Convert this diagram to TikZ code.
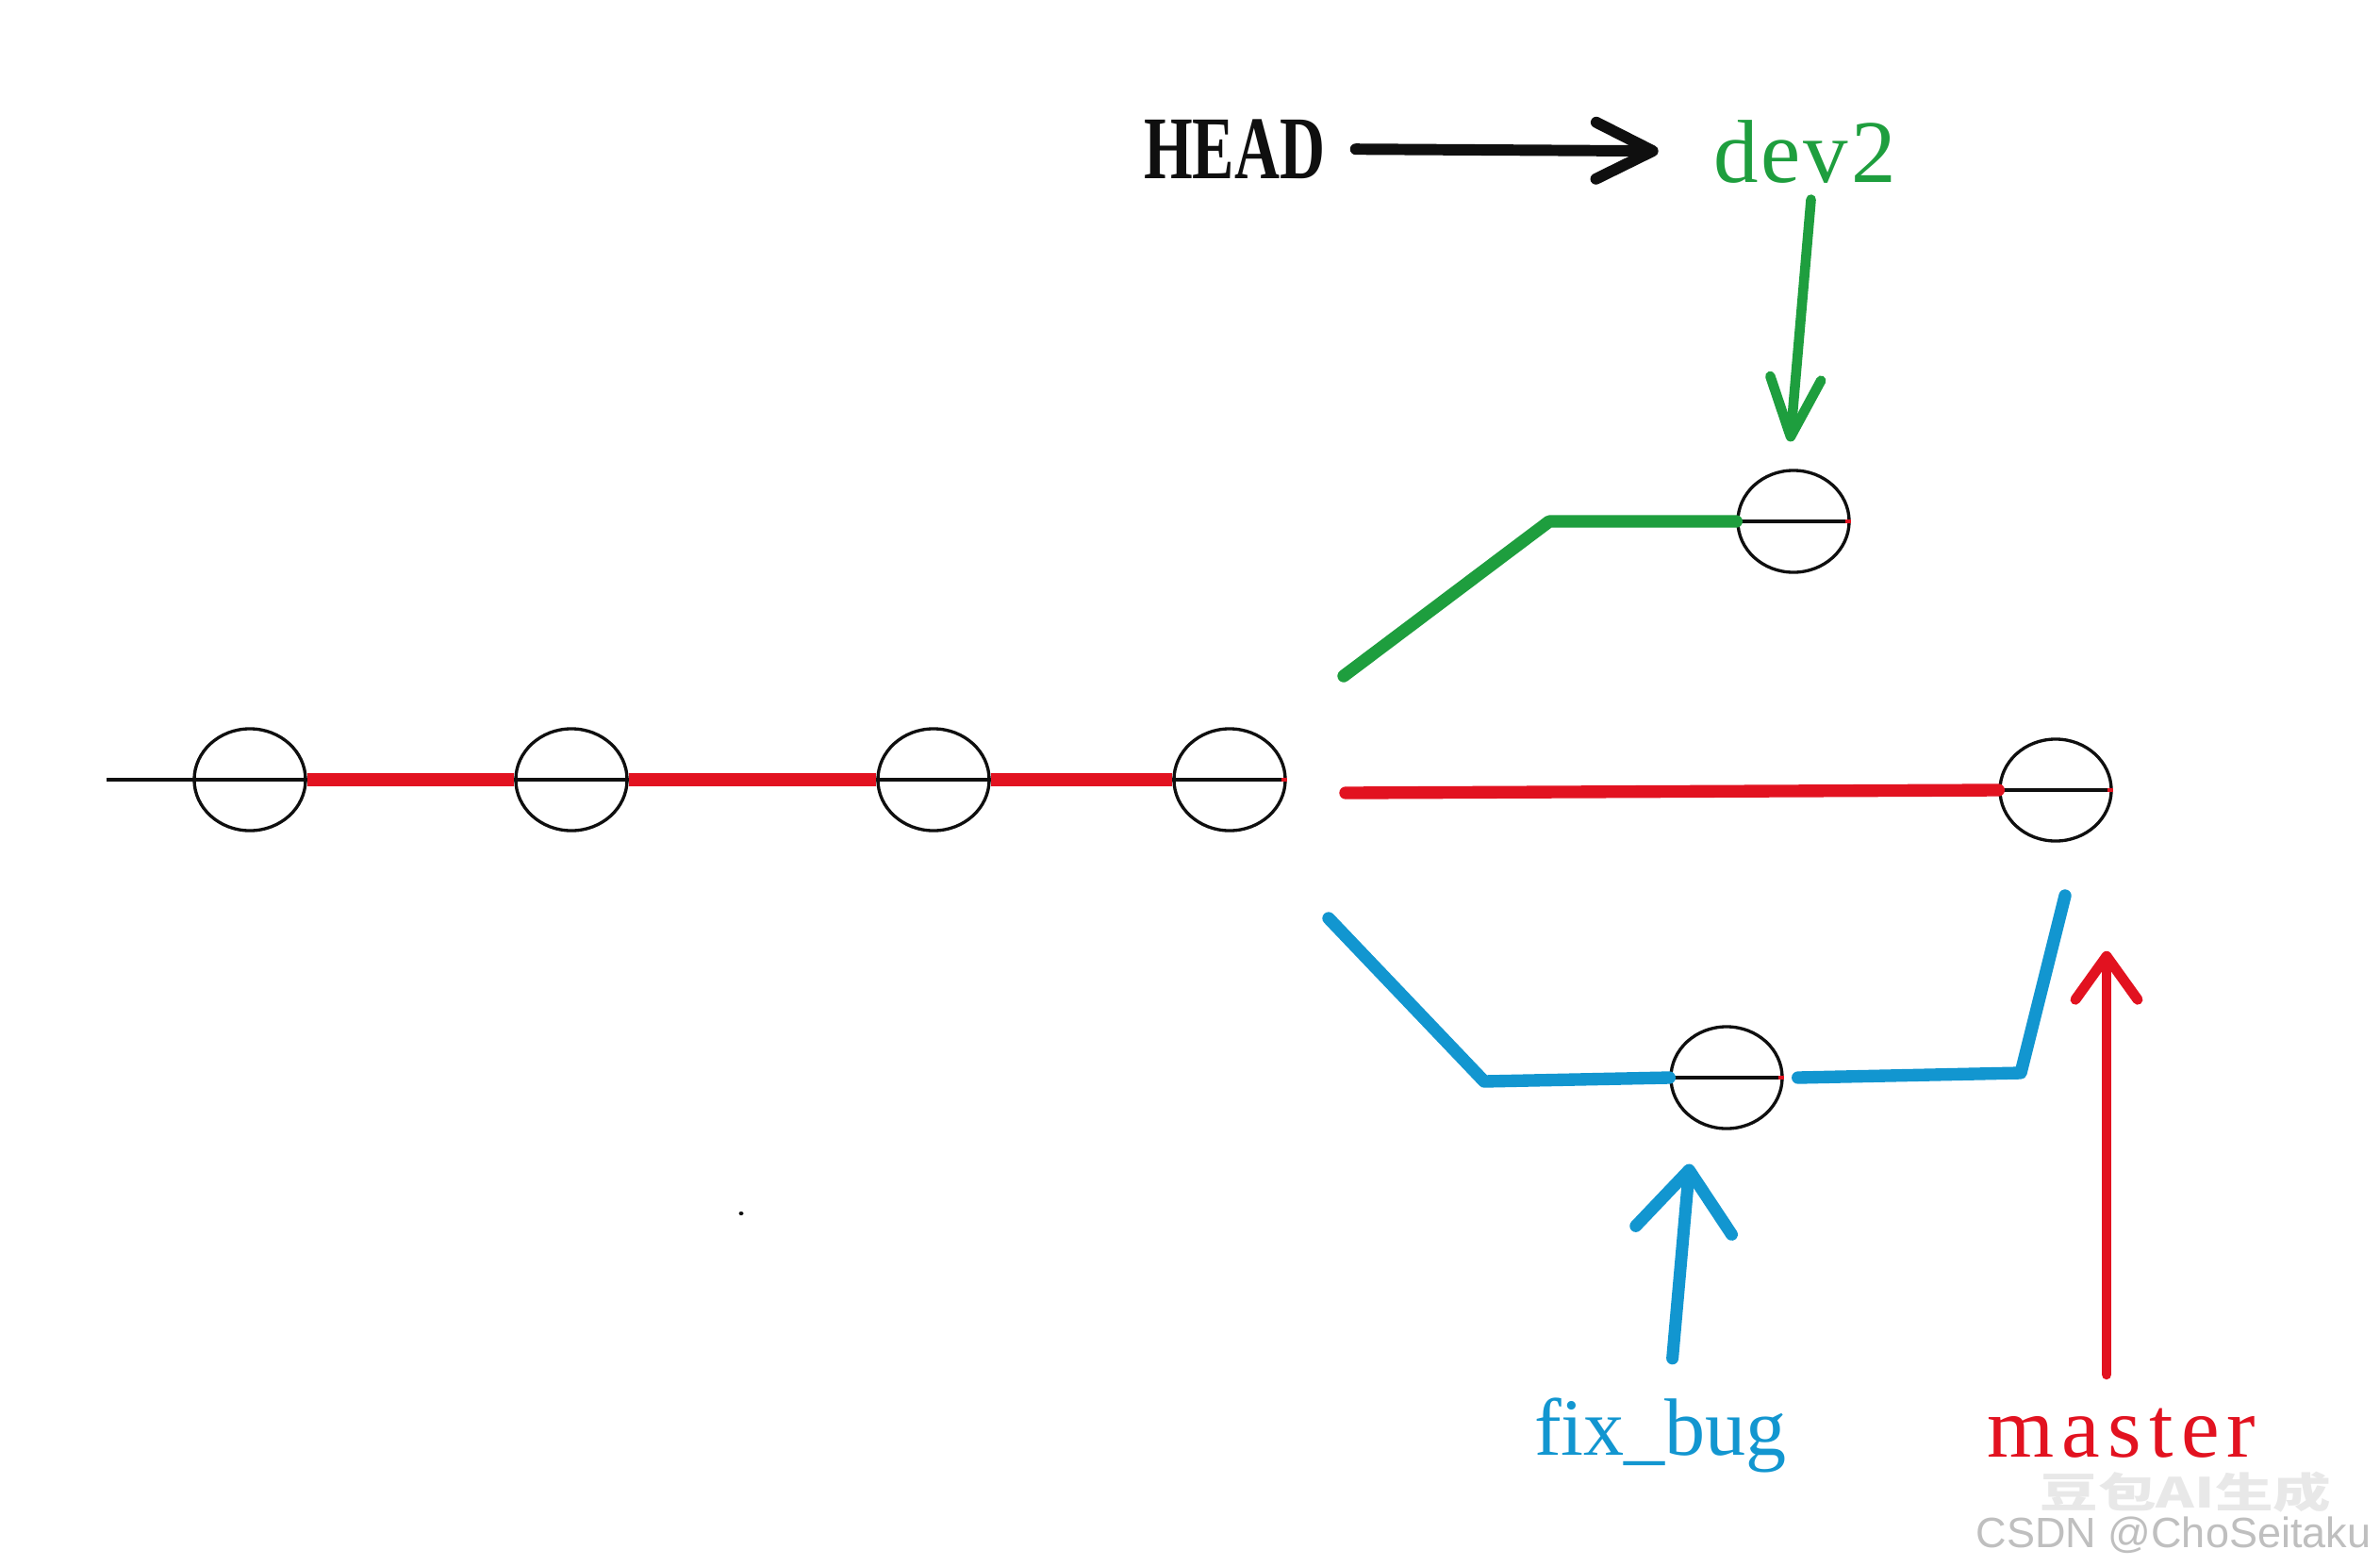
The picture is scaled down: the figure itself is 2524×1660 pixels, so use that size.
\documentclass[tikz,border=0pt]{standalone}
\usepackage{fontspec}
\setmainfont{Liberation Serif}
\setsansfont{Liberation Sans}
\newfontfamily\cjkfont{Noto Sans CJK SC}
\newfontfamily\tagfont[LetterSpace=3]{Liberation Serif}
\newfontfamily\widetagfont[LetterSpace=9]{Liberation Serif}
\usepackage{graphicx}
\usetikzlibrary{arrows.meta,positioning,shapes.geometric,calc}
\definecolor{gitred}{RGB}{226,18,32}
\definecolor{gitgreen}{RGB}{30,158,62}
\definecolor{gitblue}{RGB}{18,150,208}
\definecolor{ink}{RGB}{15,15,15}

\begin{document}
\begin{tikzpicture}[x=0.01cm,y=-0.01cm,
    commit/.style={ellipse,draw=ink,line width=0.95pt,minimum width=1.18cm,minimum height=1.08cm,inner sep=0pt},
    branch/.style={line width=3.8pt,line join=round},
    ptr/.style={line width=3.3pt,line cap=round,-{Straight Barb[#1,round]}}]
  \fill[white] (0,0) rectangle (2524,1660);
  \useasboundingbox (0,0) rectangle (2524,1660);

  \foreach \n/\x in {c1/265,c2/606,c3/990,c4/1304}
    \node[commit] (\n) at (\x,827) {};
  \node[commit] (d) at (1902,553) {};
  \node[commit] (m) at (2180,838) {};
  \node[commit] (f) at (1831,1143) {};

  \coordinate (root) at (113,827);
  \coordinate (mstart) at (1427,841);
  \coordinate (dstart) at (1425,717);
  \coordinate (dbend) at (1643,553);
  \coordinate (fstart) at (1409,974);
  \coordinate (fbend) at (1574,1147);
  \coordinate (fbend2) at (2143,1138);
  \coordinate (fend) at (2190,950);

  \draw[ink,line width=1.2pt] (root) -- (c1.west);
  \foreach \n in {c1,c2,c3,c4,d,m,f}
    \draw[ink,line width=1.2pt] (\n.west) -- (\n.east);
  \foreach \n in {c4,d,m,f}
    \draw[gitred,line width=1.2pt] ([xshift=-0.06cm]\n.east) -- (\n.east);

  \draw[branch,gitred] (c1.east) -- (c2.west) (c2.east) -- (c3.west) (c3.east) -- (c4.west);
  \draw[branch,gitred,line cap=round] (mstart) -- (m.west);
  \draw[branch,gitgreen,line cap=round] (dstart) -- (dbend) -- (d.west);
  \draw[branch,gitblue,line cap=round] (fstart) -- (fbend) -- (f.west);
  \draw[branch,gitblue,line cap=round] ([xshift=0.15cm]f.east) -- (fbend2) -- (fend);

  \node[font=\bfseries\fontsize{27}{27}\selectfont,text=ink,inner sep=0pt] (head) at (1309,158) {\scalebox{0.7}[1]{HEAD}};
  \node[font=\tagfont\fontsize{27}{27}\selectfont,text=gitgreen,inner sep=0pt,anchor=base] (dev2) at (1914,193) {dev2};
  \node[font=\fontsize{24.5}{24.5}\selectfont,text=gitblue,inner sep=0pt,anchor=base] (fixbug) at (1761,1543) {fix\_bug};
  \node[font=\widetagfont\fontsize{26}{26}\selectfont,text=gitred,inner sep=0pt,anchor=base] (master) at (2250,1545) {master};

  \draw[ptr={length=0.6cm,width=0.6cm},ink,line width=3.4pt,shorten <=0.32cm,shorten >=0.58cm] (head.east) -- (dev2.west);
  \draw[ptr={length=0.62cm,width=0.54cm},gitgreen,line width=3pt,shorten <=0.17cm,shorten >=0.29cm] ([xshift=0.08cm]dev2.south) -- ([xshift=-0.06cm]d.north);
  \draw[ptr={length=0.64cm,width=1.02cm},gitblue,line width=3.7pt,shorten <=0.41cm,shorten >=0.36cm] ([xshift=0.09cm]fixbug.north) -- ([xshift=-0.36cm]f.south);
  \draw[ptr={length=0.46cm,width=0.66cm},gitred,line width=3.1pt,shorten <=0.35cm,shorten >=1.15cm] ([xshift=-0.16cm]master.north) -- ([xshift=-0.16cm]master.north |- m.south);

  \fill[ink] (786,1287) ellipse [x radius=0.025cm,y radius=0.02cm];

  \node[font=\cjkfont\bfseries\fontsize{12.5}{12.5}\selectfont,text=black!9,inner sep=0pt] (wm) at (2318,1583) {\scalebox{1.4}[1]{豆包AI生成}};
  \node[font=\sffamily\fontsize{12.8}{12.8}\selectfont,text=black!25,inner sep=0pt,anchor=base] (csdn) at (2305,1641) {CSDN @ChoSeitaku};
\end{tikzpicture}
\end{document}
